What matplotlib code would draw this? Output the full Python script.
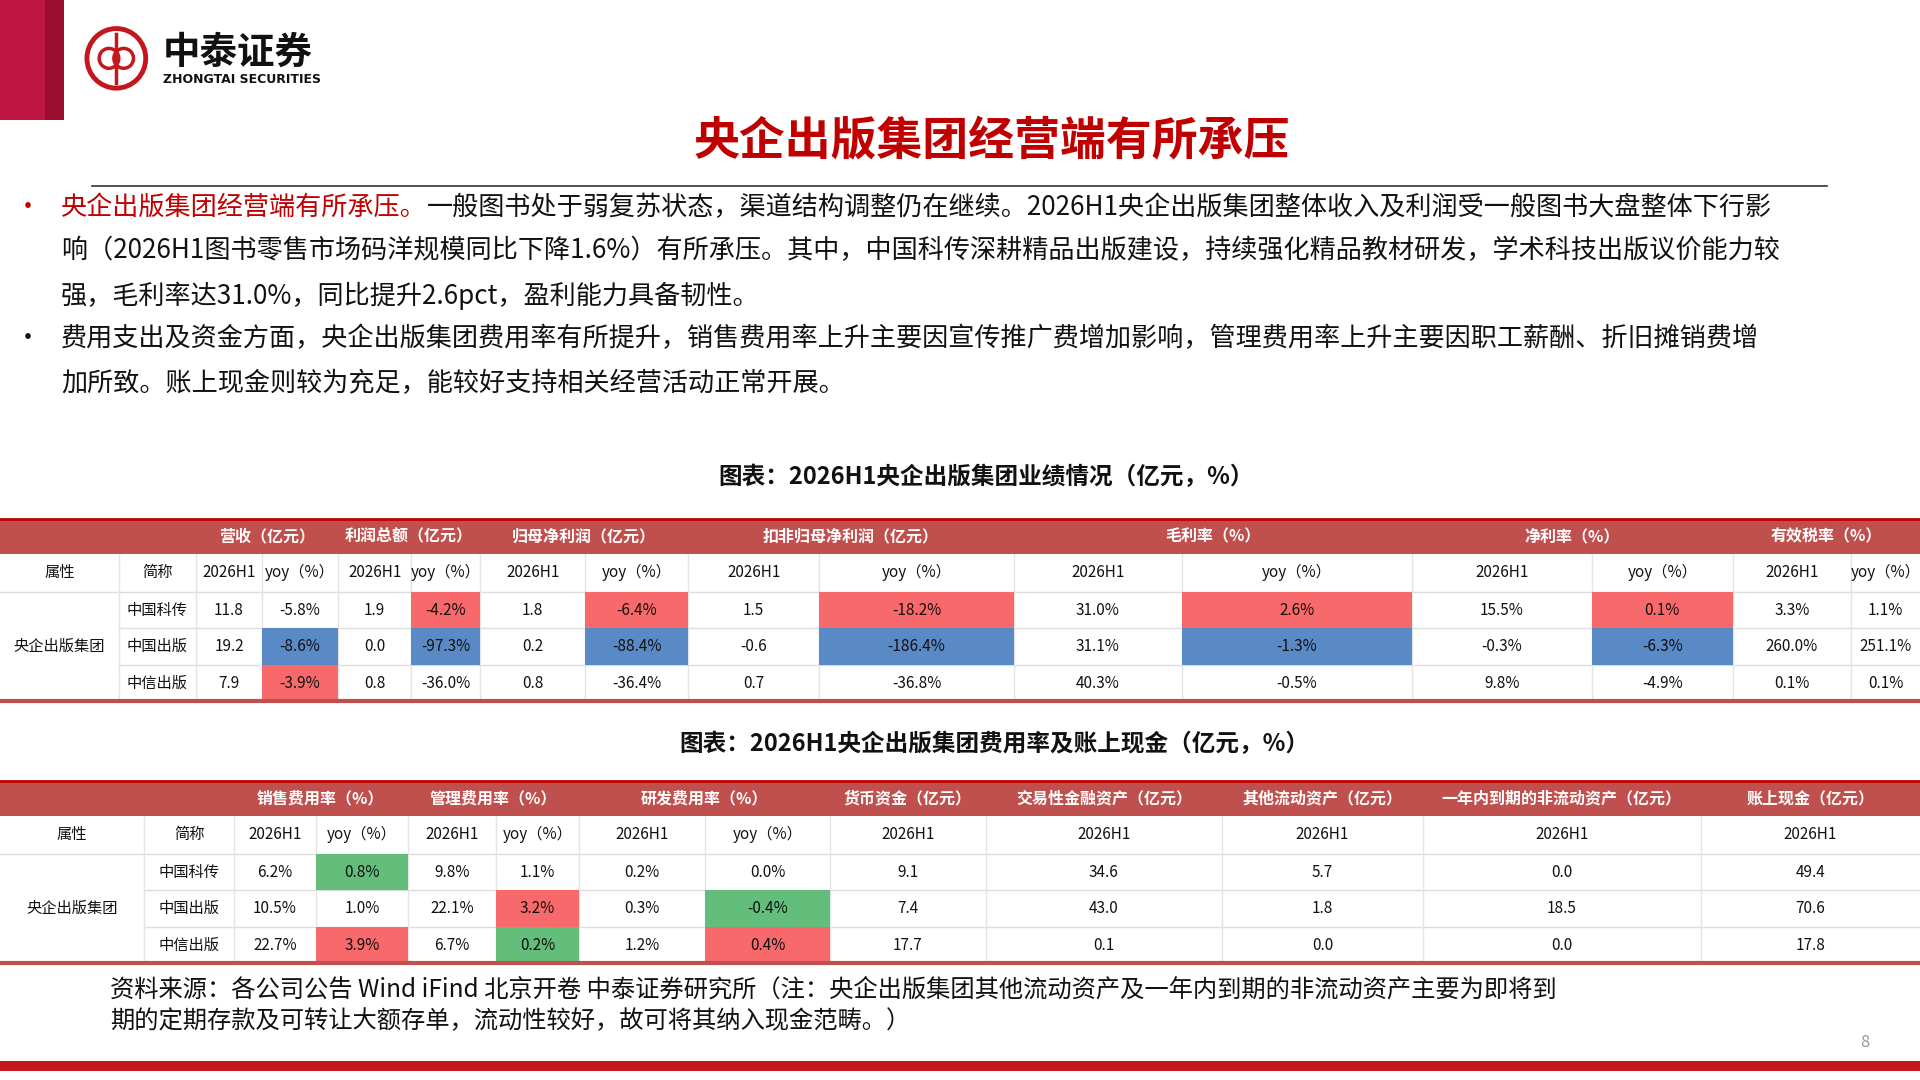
import matplotlib.pyplot as plt
from matplotlib.patches import Rectangle, Circle

plt.rcParams["font.family"] = ["Noto Sans CJK SC", "DejaVu Sans"]

# ---- data ----
companies = ["中国科传", "中国出版", "中信出版"]
group_name = "央企出版集团"

t1_groups = ["营收（亿元）", "利润总额（亿元）", "归母净利润（亿元）", "扣非归母净利润（亿元）",
             "毛利率（%）", "净利率（%）", "有效税率（%）"]
t1_values = [
    ["11.8", "-5.8%", "1.9", "-4.2%", "1.8", "-6.4%", "1.5", "-18.2%", "31.0%", "2.6%", "15.5%", "0.1%", "3.3%", "1.1%"],
    ["19.2", "-8.6%", "0.0", "-97.3%", "0.2", "-88.4%", "-0.6", "-186.4%", "31.1%", "-1.3%", "-0.3%", "-6.3%", "260.0%", "251.1%"],
    ["7.9", "-3.9%", "0.8", "-36.0%", "0.8", "-36.4%", "0.7", "-36.8%", "40.3%", "-0.5%", "9.8%", "-4.9%", "0.1%", "0.1%"],
]
t1_marks = [
    ["", "", "", "r", "", "r", "", "r", "", "r", "", "r", "", ""],
    ["", "b", "", "b", "", "b", "", "b", "", "b", "", "b", "", ""],
    ["", "r", "", "", "", "", "", "", "", "", "", "", "", ""],
]

t2_groups = ["销售费用率（%）", "管理费用率（%）", "研发费用率（%）", "货币资金（亿元）",
             "交易性金融资产（亿元）", "其他流动资产（亿元）", "一年内到期的非流动资产（亿元）", "账上现金（亿元）"]
t2_values = [
    ["6.2%", "0.8%", "9.8%", "1.1%", "0.2%", "0.0%", "9.1", "34.6", "5.7", "0.0", "49.4"],
    ["10.5%", "1.0%", "22.1%", "3.2%", "0.3%", "-0.4%", "7.4", "43.0", "1.8", "18.5", "70.6"],
    ["22.7%", "3.9%", "6.7%", "0.2%", "1.2%", "0.4%", "17.7", "0.1", "0.0", "0.0", "17.8"],
]
t2_marks = [
    ["", "g", "", "", "", "", "", "", "", "", ""],
    ["", "", "", "r", "", "g", "", "", "", "", ""],
    ["", "r", "", "g", "", "r", "", "", "", "", ""],
]

# ---- layout (in reference pixel units) ----
W, H = 1568, 870
RED = "#C0504D"
DARK = "#C00000"
CELL = {"r": "#F8696B", "b": "#5A8AC6", "g": "#63BE7B", "": "white"}

fig = plt.figure(figsize=(19.2, 10.8), dpi=100)
ax = fig.add_axes([0, 0, 1, 1])
ax.set_xlim(0, W)
ax.set_ylim(H, 0)
ax.axis("off")

# header logo
ax.add_patch(Rectangle((0, 0), 37, 97, color="#BE1542", lw=0))
ax.add_patch(Rectangle((37, 0), 15, 97, color="#9A0D2E", lw=0))
ax.add_patch(Circle((95, 47), 24, fill=False, ec="#C4161C", lw=3.5))
ax.plot([95, 95], [27, 67], color="#C4161C", lw=2.5)
ax.add_patch(Circle((89, 47), 8, fill=False, ec="#C4161C", lw=2.5))
ax.add_patch(Circle((101, 47), 8, fill=False, ec="#C4161C", lw=2.5))
ax.text(133, 42, "中泰证券", fontsize=27, fontweight="bold", va="center", color="#111")
ax.text(133, 64, "ZHONGTAI SECURITIES", fontsize=9, fontweight="bold", va="center",
        family=["DejaVu Sans"], color="#111")

# title
ax.text(810, 115, "央企出版集团经营端有所承压", fontsize=33, fontweight="bold",
        color="#C00000", ha="center", va="center")
ax.plot([75, 1492], [150, 150], color="#333", lw=1.2)

# bullets
fs = 18.8
lines = [
    (167, "一般图书处于弱复苏状态，渠道结构调整仍在继续。2026H1央企出版集团整体收入及利润受一般图书大盘整体下行影"),
    (202, "响（2026H1图书零售市场码洋规模同比下降1.6%）有所承压。其中，中国科传深耕精品出版建设，持续强化精品教材研发，学术科技出版议价能力较"),
    (238, "强，毛利率达31.0%，同比提升2.6pct，盈利能力具备韧性。"),
    (273, "费用支出及资金方面，央企出版集团费用率有所提升，销售费用率上升主要因宣传推广费增加影响，管理费用率上升主要因职工薪酬、折旧摊销费增"),
    (309, "加所致。账上现金则较为充足，能较好支持相关经营活动正常开展。"),
]
ax.text(12, 167, "•", fontsize=fs, color="#C00000", va="center")
ax.text(12, 273, "•", fontsize=fs, color="#111", va="center")
lead = "央企出版集团经营端有所承压。"
t = ax.text(50, 167, lead, fontsize=fs, color="#C00000", va="center")
fig.canvas.draw()
bb = t.get_window_extent().transformed(ax.transData.inverted())
ax.text(bb.x1, 167, lines[0][1], fontsize=fs, color="#111", va="center")
for y, s in lines[1:]:
    ax.text(50, y, s, fontsize=fs, color="#111", va="center")


def draw_table(top, group_spans, col_x, sub_labels, values, marks, group_labels):
    rows = [top, top + 28, top + 59, top + 88, top + 118, top + 147]
    ax.plot([0, W], [top, top], color=DARK, lw=2)
    ax.add_patch(Rectangle((0, top), W, rows[1] - top, color=RED, lw=0))
    for (a, b), lab in zip(group_spans, group_labels):
        ax.text((col_x[a] + col_x[b]) / 2, (rows[0] + rows[1]) / 2, lab, color="white",
                fontsize=11.5, fontweight="bold", ha="center", va="center")
    subs = ["属性", "简称"] + sub_labels
    for i, s in enumerate(subs):
        ax.text((col_x[i] + col_x[i + 1]) / 2, (rows[1] + rows[2]) / 2, s,
                fontsize=11, ha="center", va="center", color="#111")
    for r in range(3):
        y0, y1 = rows[r + 2], rows[r + 3]
        ax.text((col_x[1] + col_x[2]) / 2, (y0 + y1) / 2, companies[r],
                fontsize=11, ha="center", va="center", color="#111")
        for c, v in enumerate(values[r]):
            x0, x1 = col_x[c + 2], col_x[c + 3]
            m = marks[r][c]
            if m:
                ax.add_patch(Rectangle((x0, y0), x1 - x0, y1 - y0, color=CELL[m], lw=0))
            ax.text((x0 + x1) / 2, (y0 + y1) / 2, v, fontsize=11,
                    ha="center", va="center", color="#111")
    ax.text((col_x[0] + col_x[1]) / 2, (rows[2] + rows[5]) / 2, group_name,
            fontsize=11, ha="center", va="center", color="#111")
    for y in rows[2:5]:
        ax.plot([col_x[1] if y != rows[2] else 0, W], [y, y], color="#DDDDDD", lw=1, zorder=0.5)
    for x in col_x[1:-1]:
        ax.plot([x, x], [rows[1], rows[5]], color="#E4E4E4", lw=1, zorder=0.5)
    ax.plot([0, W], [rows[5], rows[5]], color=RED, lw=3)


# table 1
ax.text(805, 384, "图表：2026H1央企出版集团业绩情况（亿元，%）", fontsize=17, fontweight="bold",
        ha="center", va="center", color="#111")
c1 = [0, 97, 160, 214, 276, 336, 392, 478, 562, 669, 828, 965, 1153, 1300, 1415, 1512, W]
spans1 = [(2, 4), (4, 6), (6, 8), (8, 10), (10, 12), (12, 14), (14, 16)]
sub1 = ["2026H1", "yoy（%）"] * 7
draw_table(418, spans1, c1, sub1, t1_values, t1_marks, t1_groups)

# table 2
ax.text(812, 599, "图表：2026H1央企出版集团费用率及账上现金（亿元，%）", fontsize=17, fontweight="bold",
        ha="center", va="center", color="#111")
c2 = [0, 118, 191, 258, 333, 405, 473, 576, 678, 805, 998, 1162, 1389, W]
spans2 = [(2, 4), (4, 6), (6, 8), (8, 9), (9, 10), (10, 11), (11, 12), (12, 13)]
sub2 = ["2026H1", "yoy（%）"] * 3 + ["2026H1"] * 5
draw_table(629, spans2, c2, sub2, t2_values, t2_marks, t2_groups)

# source
ax.text(90, 797, "资料来源：各公司公告 Wind iFind 北京开卷 中泰证券研究所（注：央企出版集团其他流动资产及一年内到期的非流动资产主要为即将到",
        fontsize=17.5, style="italic", va="center", color="#111")
ax.text(90, 823, "期的定期存款及可转让大额存单，流动性较好，故可将其纳入现金范畴。）",
        fontsize=17.5, style="italic", va="center", color="#111")
ax.text(1523, 840, "8", fontsize=12, color="#999", ha="center", va="center")
ax.add_patch(Rectangle((0, 855), W, 8, color="#C4161C", lw=0))

fig.savefig("out.png", dpi=100)
